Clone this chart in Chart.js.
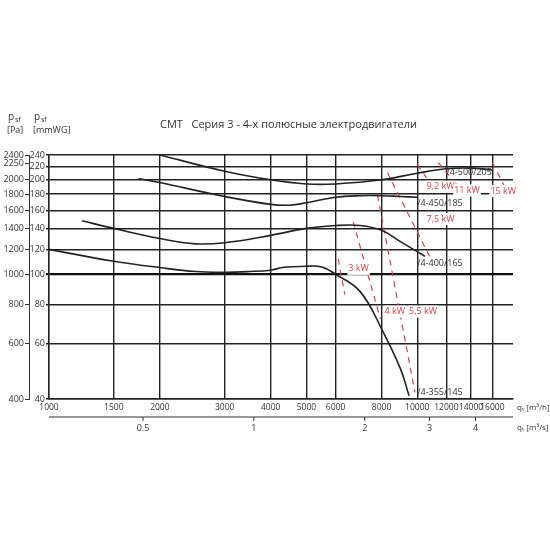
<!DOCTYPE html>
<html><head><meta charset="utf-8">
<script src="https://cdn.jsdelivr.net/npm/chart.js@4/dist/chart.umd.min.js"></script>
<style>body{margin:0;background:#fff}#wrap{width:550px;height:550px}</style>
</head><body><div id="wrap"><canvas id="c"></canvas></div>
<script>
// ticks
const qTicks = [1000, 1500, 2000, 3000, 4000, 5000, 6000, 8000, 10000, 12000, 14000, 16000];
const qsTicks = [0.5, 1, 2, 3, 4]; // m3/s
const mmTicks = [40, 60, 80, 100, 120, 140, 160, 180, 200, 220, 240];
const paTicks = [400, 600, 800, 1000, 1200, 1400, 1600, 1800, 2000, 2250, 2400];

// ventilator curves [m3/h, mmWG]
const fan355 = [[1000,120],[1500,110],[2000,105],[2500,102],[3000,101.5],[3500,102],[4000,103],[4300,105],[5000,106],[5500,105.5],[6000,100],[7000,88],[8000,67],[9000,50],[9500,41]];
const fan400 = [[1230,148],[1500,140],[2000,130],[2500,125],[3000,126],[4000,133],[5000,140],[6000,143],[7000,143],[8000,138],[9000,127],[10000,118],[10500,114]];
const fan450 = [[1750,202],[2000,196],[3000,177],[4000,167],[4500,166],[5000,169],[6000,176],[7000,178],[8000,178],[9000,177],[10000,176]];
const fan500 = [[2000,240],[3000,213],[4000,200],[5000,194],[6000,194],[8000,200],[10000,210],[12000,217],[14000,218],[16000,215]];
const fanLabels = [['/4-500/205',12000,211],['/4-450/185',10000,168],['/4-400/165',10000,108],['/4-355/145',10000,42]];

// power lines
const kw3 = [[6100,112],[6360,86]];
const kw4 = [[6700,147],[7940,72]];
const kw55 = [[7800,179],[9860,42]];
const kw75 = [[8300,211],[10800,114]];
const kw92 = [[10000,224],[10600,203]];
const kw11 = [[11400,227],[12800,193]];
const kw15 = [[16000,227],[17600,182]];
const kwLabels = [['3 kW',6500,104],['4 kW',8150,76],['5,5 kW',9500,76],['7,5 kW',10600,150],['9,2 kW',10600,190],['11 kW',12600,185],['15 kW',15800,184]];

const pts = a => a.map(p => ({x: p[0], y: p[1]}));
const fanSet = a => ({data: pts(a), yAxisID: 'y', showLine: true, borderColor: '#222', borderWidth: 1.6, pointRadius: 0, tension: 0.4});
const kwSet = a => ({data: pts(a), yAxisID: 'y', showLine: true, borderColor: '#d9414b', borderWidth: 1.2, borderDash: [6, 5], pointRadius: 0});

const textPlugin = {
  id: 'texts',
  afterDraw(chart) {
    const {ctx, scales: {x, y}, chartArea: ca} = chart;
    ctx.save();
    ctx.font = '9px "Open Sans"';
    ctx.textBaseline = 'middle';
    ctx.fillStyle = '#333';
    for (const [t, q, p] of fanLabels) ctx.fillText(t, x.getPixelForValue(q), y.getPixelForValue(p));
    for (const [t, q, p] of kwLabels) {
      const w = ctx.measureText(t).width, px = x.getPixelForValue(q), py = y.getPixelForValue(p);
      ctx.fillStyle = '#fff'; ctx.fillRect(px - 1, py - 6, w + 2, 12);
      ctx.fillStyle = '#d9414b'; ctx.fillText(t, px, py);
    }
    ctx.fillStyle = '#333';
    ctx.font = '11px "Open Sans"';
    ctx.fillText('CMT   Серия 3 - 4-х полюсные электродвигатели', 160, 125);
    ctx.font = '10px "Open Sans"';
    ctx.fillText('p', 8, 117); ctx.fillText('p', 34, 117);
    ctx.font = '7px "Open Sans"';
    ctx.fillText('sf', 15, 120); ctx.fillText('sf', 41, 120);
    ctx.font = '9px "Open Sans"';
    ctx.fillText('[Pa]', 7, 130); ctx.fillText('[mmWG]', 33, 130);
    ctx.font = '8px "Open Sans"';
    ctx.fillText('q\u1D65 [m³/h]', ca.right + 4, 408);
    ctx.fillText('q\u1D65 [m³/s]', ca.right + 4, 428);
    // m3/s axis line and ticks
    ctx.strokeStyle = '#333'; ctx.lineWidth = 1;
    ctx.beginPath(); ctx.moveTo(ca.left, 417); ctx.lineTo(ca.right, 417); ctx.stroke();
    ctx.textAlign = 'center';
    ctx.font = '9px "Open Sans"';
    for (const v of qsTicks) {
      const px = x.getPixelForValue(v * 3600);
      ctx.beginPath(); ctx.moveTo(px, 417); ctx.lineTo(px, 421); ctx.stroke();
      ctx.fillText(String(v), px, 428);
    }
    ctx.restore();
  }
};

new Chart(document.getElementById('c'), {
  type: 'scatter',
  data: {datasets: [fanSet(fan355), fanSet(fan400), fanSet(fan450), fanSet(fan500),
    kwSet(kw3), kwSet(kw4), kwSet(kw55), kwSet(kw75), kwSet(kw92), kwSet(kw11), kwSet(kw15)]},
  options: {
    responsive: true, maintainAspectRatio: false, animation: false,
    layout: {padding: {top: 155, right: 37, bottom: 131, left: 0}},
    plugins: {legend: {display: false}, tooltip: {enabled: false}},
    scales: {
      x: {type: 'logarithmic', min: 1000, max: 18200,
        afterBuildTicks: s => { s.ticks = qTicks.map(v => ({value: v})); },
        afterFit: s => { s.height = 20; },
        grid: {color: '#222', lineWidth: 1.4, drawTicks: false},
        border: {color: '#222', width: 1.4},
        ticks: {color: '#333', font: {size: 8.5, family: 'Open Sans'}, padding: 3, maxRotation: 0, autoSkip: false, callback: v => String(v)}},
      y: {type: 'logarithmic', position: 'left', min: 40, max: 240,
        afterBuildTicks: s => { s.ticks = mmTicks.map(v => ({value: v})); },
        afterFit: s => { s.width = 20; },
        grid: {color: c => c.tick && c.tick.value === 100 ? '#111' : '#222', lineWidth: c => c.tick && c.tick.value === 100 ? 2.2 : 1.4, tickLength: 3},
        border: {color: '#222', width: 1.4},
        ticks: {color: '#333', font: {size: 9, family: 'Open Sans'}, padding: 1, autoSkip: false, callback: v => String(v)}},
      yPa: {type: 'logarithmic', position: 'left', min: 400, max: 2400,
        afterBuildTicks: s => { s.ticks = paTicks.map(v => ({value: v})); },
        afterFit: s => { s.width = 29; },
        grid: {drawOnChartArea: false, color: '#333', tickLength: 4},
        border: {color: '#333'},
        ticks: {color: '#333', font: {size: 9, family: 'Open Sans'}, padding: 1, autoSkip: false, callback: v => String(v)}}
    }
  },
  plugins: [textPlugin]
});
</script></body></html>
